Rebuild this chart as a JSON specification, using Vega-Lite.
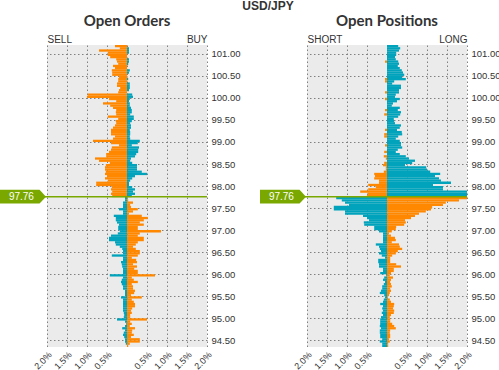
{
"$schema":"https://vega.github.io/schema/vega-lite/v6.json",
"padding":{"left":0,"top":0,"right":0,"bottom":0},
"background":"white",
"title":{"text":"USD/JPY","fontSize":12,"font":"Liberation Sans","fontWeight":"bold","color":"#333333","anchor":"middle","dx":18,"offset":1},
"datasets":{
"now":[{"p":97.76}],
"book":[
{"p":101.175,"oa":-0.30,"ob":0,"pa":0,"pb":0.28},
{"p":101.125,"oa":-0.18,"ob":0.05,"pa":0,"pb":0.33},
{"p":101.075,"oa":-0.70,"ob":0.05,"pa":0,"pb":0.30},
{"p":101.025,"oa":-0.48,"ob":0.05,"pa":0,"pb":0.23},
{"p":100.975,"oa":-0.48,"ob":0,"pa":0,"pb":0.23},
{"p":100.925,"oa":-0.42,"ob":0,"pa":0,"pb":0.20},
{"p":100.875,"oa":-0.27,"ob":0.05,"pa":0,"pb":0.22},
{"p":100.825,"oa":-0.25,"ob":0.05,"pa":-0.05,"pb":0.28},
{"p":100.775,"oa":-0.22,"ob":0.03,"pa":0,"pb":0.30},
{"p":100.725,"oa":-0.35,"ob":0,"pa":0,"pb":0.27},
{"p":100.675,"oa":-0.30,"ob":0,"pa":0,"pb":0.32},
{"p":100.625,"oa":-0.38,"ob":0.07,"pa":0,"pb":0.37},
{"p":100.575,"oa":-0.37,"ob":0.05,"pa":0,"pb":0.40},
{"p":100.525,"oa":-0.37,"ob":0,"pa":0,"pb":0.43},
{"p":100.475,"oa":-0.20,"ob":0,"pa":0,"pb":0.38},
{"p":100.425,"oa":-0.22,"ob":0.03,"pa":-0.05,"pb":0.47},
{"p":100.375,"oa":-0.22,"ob":0,"pa":-0.05,"pb":0.18},
{"p":100.325,"oa":-0.25,"ob":0.07,"pa":0,"pb":0.13},
{"p":100.275,"oa":-0.25,"ob":0.07,"pa":0,"pb":0.35},
{"p":100.225,"oa":-0.17,"ob":0.07,"pa":0,"pb":0.35},
{"p":100.175,"oa":-0.20,"ob":0.05,"pa":0,"pb":0.30},
{"p":100.125,"oa":-0.22,"ob":0,"pa":-0.05,"pb":0.30},
{"p":100.075,"oa":-0.98,"ob":0.13,"pa":0,"pb":0.22},
{"p":100.025,"oa":-1.00,"ob":0.15,"pa":0,"pb":0.20},
{"p":99.975,"oa":-0.45,"ob":0.07,"pa":-0.05,"pb":0.32},
{"p":99.925,"oa":-0.27,"ob":0.05,"pa":0,"pb":0.25},
{"p":99.875,"oa":-0.60,"ob":0.07,"pa":0,"pb":0.15},
{"p":99.825,"oa":-0.42,"ob":0.07,"pa":0,"pb":0.12},
{"p":99.775,"oa":-0.35,"ob":0.10,"pa":0,"pb":0.32},
{"p":99.725,"oa":-0.27,"ob":0.12,"pa":-0.05,"pb":0.27},
{"p":99.675,"oa":-0.28,"ob":0.12,"pa":0,"pb":0.35},
{"p":99.625,"oa":-0.27,"ob":0.08,"pa":-0.07,"pb":0.33},
{"p":99.575,"oa":-0.48,"ob":0.17,"pa":0,"pb":0.28},
{"p":99.525,"oa":-0.22,"ob":0.17,"pa":0,"pb":0.17},
{"p":99.475,"oa":-0.28,"ob":0.12,"pa":0,"pb":0.18},
{"p":99.425,"oa":-0.27,"ob":0.08,"pa":0,"pb":0.20},
{"p":99.375,"oa":-0.30,"ob":0.10,"pa":0,"pb":0.35},
{"p":99.325,"oa":-0.35,"ob":0.10,"pa":0,"pb":0.32},
{"p":99.275,"oa":-0.40,"ob":0.07,"pa":-0.05,"pb":0.25},
{"p":99.225,"oa":-0.40,"ob":0.08,"pa":0,"pb":0.37},
{"p":99.175,"oa":-0.40,"ob":0.08,"pa":-0.07,"pb":0.38},
{"p":99.125,"oa":-0.30,"ob":0.07,"pa":-0.07,"pb":0.28},
{"p":99.075,"oa":-0.35,"ob":0.08,"pa":0,"pb":0.22},
{"p":99.025,"oa":-0.85,"ob":0.32,"pa":0,"pb":0.32},
{"p":98.975,"oa":-0.40,"ob":0.27,"pa":0,"pb":0.35},
{"p":98.925,"oa":-0.20,"ob":0.12,"pa":-0.05,"pb":0.35},
{"p":98.875,"oa":-0.38,"ob":0.30,"pa":0,"pb":0.38},
{"p":98.825,"oa":-0.40,"ob":0.28,"pa":0,"pb":0.27},
{"p":98.775,"oa":-0.45,"ob":0.28,"pa":-0.07,"pb":0.22},
{"p":98.725,"oa":-0.52,"ob":0.23,"pa":0,"pb":0.32},
{"p":98.675,"oa":-0.52,"ob":0.20,"pa":-0.08,"pb":0.47},
{"p":98.625,"oa":-0.80,"ob":0.10,"pa":-0.03,"pb":0.55},
{"p":98.575,"oa":-0.70,"ob":0.08,"pa":0,"pb":0.70},
{"p":98.525,"oa":-0.43,"ob":0.13,"pa":-0.07,"pb":0.63},
{"p":98.475,"oa":-0.53,"ob":0.25,"pa":-0.10,"pb":0.45},
{"p":98.425,"oa":-0.55,"ob":0.25,"pa":-0.03,"pb":0.98},
{"p":98.375,"oa":-0.55,"ob":0.25,"pa":-0.03,"pb":1.00},
{"p":98.325,"oa":-0.53,"ob":0.37,"pa":-0.08,"pb":1.08},
{"p":98.275,"oa":-0.55,"ob":0.50,"pa":-0.32,"pb":1.33},
{"p":98.225,"oa":-0.50,"ob":0.20,"pa":-0.30,"pb":1.20},
{"p":98.175,"oa":-0.55,"ob":0.13,"pa":-0.32,"pb":1.30},
{"p":98.125,"oa":-0.48,"ob":0.08,"pa":-0.20,"pb":1.35},
{"p":98.075,"oa":-0.77,"ob":0.05,"pa":-0.20,"pb":1.60},
{"p":98.025,"oa":-0.77,"ob":0.05,"pa":-0.47,"pb":1.15},
{"p":97.975,"oa":-0.38,"ob":0.13,"pa":-0.28,"pb":1.40},
{"p":97.925,"oa":-0.40,"ob":0.20,"pa":-0.47,"pb":1.40},
{"p":97.875,"oa":-0.37,"ob":0.15,"pa":-0.67,"pb":2.10},
{"p":97.825,"oa":-0.40,"ob":0.20,"pa":-0.48,"pb":2.10},
{"p":97.775,"oa":-0.37,"ob":0.12,"pa":-0.50,"pb":2.10},
{"p":97.725,"oa":-0.05,"ob":0.02,"pa":-1.27,"pb":2.10},
{"p":97.675,"oa":-0.05,"ob":0.03,"pa":-1.13,"pb":1.80},
{"p":97.625,"oa":-0.10,"ob":0.15,"pa":-1.05,"pb":1.47},
{"p":97.575,"oa":-0.10,"ob":0.08,"pa":-0.95,"pb":1.40},
{"p":97.525,"oa":-0.10,"ob":0.10,"pa":-1.33,"pb":1.13},
{"p":97.475,"oa":-0.20,"ob":0.27,"pa":-1.33,"pb":1.10},
{"p":97.425,"oa":-0.10,"ob":0.15,"pa":-1.05,"pb":0.97},
{"p":97.375,"oa":-0.10,"ob":0.05,"pa":-1.05,"pb":0.80},
{"p":97.325,"oa":-0.33,"ob":0.37,"pa":-0.60,"pb":0.70},
{"p":97.275,"oa":-0.28,"ob":0.52,"pa":-0.50,"pb":0.60},
{"p":97.225,"oa":-0.28,"ob":0.42,"pa":-0.45,"pb":0.45},
{"p":97.175,"oa":-0.25,"ob":0.32,"pa":-0.58,"pb":0.47},
{"p":97.125,"oa":-0.20,"ob":0.42,"pa":-0.57,"pb":0.43},
{"p":97.075,"oa":-0.22,"ob":0.27,"pa":-0.32,"pb":0.23},
{"p":97.025,"oa":-0.22,"ob":0.27,"pa":-0.32,"pb":0.22},
{"p":96.975,"oa":-0.18,"ob":0.85,"pa":-0.20,"pb":0.12},
{"p":96.925,"oa":-0.23,"ob":0.32,"pa":-0.10,"pb":0.05},
{"p":96.875,"oa":-0.40,"ob":0.27,"pa":-0.10,"pb":0.10},
{"p":96.825,"oa":-0.45,"ob":0.42,"pa":-0.10,"pb":0.20},
{"p":96.775,"oa":-0.45,"ob":0.42,"pa":-0.10,"pb":0.22},
{"p":96.725,"oa":-0.30,"ob":0.27,"pa":-0.10,"pb":0.12},
{"p":96.675,"oa":-0.28,"ob":0.22,"pa":-0.28,"pb":0.30},
{"p":96.625,"oa":-0.18,"ob":0.15,"pa":-0.20,"pb":0.32},
{"p":96.575,"oa":-0.12,"ob":0.22,"pa":-0.18,"pb":0.38},
{"p":96.525,"oa":-0.10,"ob":0.32,"pa":-0.15,"pb":0.27},
{"p":96.475,"oa":-0.10,"ob":0.32,"pa":-0.20,"pb":0.22},
{"p":96.425,"oa":-0.38,"ob":0.27,"pa":-0.13,"pb":0.13},
{"p":96.375,"oa":-0.10,"ob":0.12,"pa":-0.05,"pb":0.08},
{"p":96.325,"oa":-0.10,"ob":0.23,"pa":-0.22,"pb":0.08},
{"p":96.275,"oa":-0.15,"ob":0.25,"pa":-0.22,"pb":0.08},
{"p":96.225,"oa":-0.13,"ob":0.15,"pa":-0.20,"pb":0.23},
{"p":96.175,"oa":-0.12,"ob":0.25,"pa":-0.20,"pb":0.35},
{"p":96.125,"oa":-0.10,"ob":0.18,"pa":-0.10,"pb":0.17},
{"p":96.075,"oa":-0.10,"ob":0.27,"pa":-0.10,"pb":0.17},
{"p":96.025,"oa":-0.10,"ob":0.27,"pa":-0.17,"pb":0.10},
{"p":95.975,"oa":-0.43,"ob":0.70,"pa":-0.02,"pb":0.07},
{"p":95.925,"oa":-0.10,"ob":0.12,"pa":-0.07,"pb":0.15},
{"p":95.875,"oa":-0.13,"ob":0.17,"pa":-0.10,"pb":0.10},
{"p":95.825,"oa":-0.15,"ob":0.27,"pa":-0.05,"pb":0.08},
{"p":95.775,"oa":-0.13,"ob":0.12,"pa":-0.08,"pb":0.10},
{"p":95.725,"oa":-0.10,"ob":0.15,"pa":-0.12,"pb":0.12},
{"p":95.675,"oa":-0.10,"ob":0.15,"pa":-0.12,"pb":0.08},
{"p":95.625,"oa":-0.05,"ob":0.20,"pa":-0.15,"pb":0.10},
{"p":95.575,"oa":-0.05,"ob":0.18,"pa":-0.18,"pb":0.07},
{"p":95.525,"oa":-0.05,"ob":0.10,"pa":-0.07,"pb":0.05},
{"p":95.475,"oa":-0.15,"ob":0.37,"pa":-0.05,"pb":0.02},
{"p":95.425,"oa":-0.10,"ob":0.12,"pa":-0.08,"pb":0.07},
{"p":95.375,"oa":-0.10,"ob":0.17,"pa":-0.10,"pb":0.10},
{"p":95.325,"oa":-0.10,"ob":0.20,"pa":-0.17,"pb":0.18},
{"p":95.275,"oa":-0.10,"ob":0.20,"pa":-0.10,"pb":0.17},
{"p":95.225,"oa":-0.10,"ob":0.13,"pa":-0.12,"pb":0.15},
{"p":95.175,"oa":-0.10,"ob":0.10,"pa":-0.10,"pb":0.18},
{"p":95.125,"oa":-0.08,"ob":0.12,"pa":-0.13,"pb":0.17},
{"p":95.075,"oa":-0.07,"ob":0.08,"pa":-0.10,"pb":0.10},
{"p":95.025,"oa":-0.08,"ob":0.08,"pa":-0.15,"pb":0.07},
{"p":94.975,"oa":-0.25,"ob":0.50,"pa":-0.17,"pb":0.08},
{"p":94.925,"oa":-0.05,"ob":0.08,"pa":-0.17,"pb":0.08},
{"p":94.875,"oa":-0.02,"ob":0.12,"pa":-0.17,"pb":0.13},
{"p":94.825,"oa":-0.05,"ob":0.07,"pa":-0.18,"pb":0.18},
{"p":94.775,"oa":-0.12,"ob":0.20,"pa":-0.15,"pb":0.22},
{"p":94.725,"oa":-0.05,"ob":0.13,"pa":-0.18,"pb":0.08},
{"p":94.675,"oa":-0.08,"ob":0.12,"pa":-0.18,"pb":0.07},
{"p":94.625,"oa":-0.10,"ob":0.17,"pa":-0.17,"pb":0.08},
{"p":94.575,"oa":-0.07,"ob":0.10,"pa":-0.17,"pb":0.08},
{"p":94.525,"oa":-0.05,"ob":0.32,"pa":-0.12,"pb":0.05},
{"p":94.475,"oa":-0.05,"ob":0.32,"pa":-0.18,"pb":0.07},
{"p":94.425,"oa":-0.03,"ob":0.07,"pa":-0.12,"pb":0.03},
{"p":94.375,"oa":0,"ob":0.03,"pa":-0.12,"pb":0.03}
]},
"spacing":100,
"bounds":"flush",
"hconcat":[
{
"width":160,"height":302,
"title":{"text":"Open Orders","fontSize":15,"font":"Lato","fontWeight":"bold","color":"#333333","offset":5},
"resolve":{"axis":{"x":"independent"}},
"encoding":{
"y":{"field":"p","type":"quantitative","scale":{"domain":[94.35,101.2],"nice":false,"zero":false,"padding":0},
"axis":{"orient":"right","title":null,"values":[94.5,95,95.5,96,96.5,97,97.5,98,98.5,99,99.5,100,100.5,101],"format":".2f","labelOverlap":false,"ticks":false,"domain":false,"grid":true,"gridDash":[1.5,2.5],"gridColor":"#808080","labelFontSize":9.5,"labelColor":"#333333","labelPadding":4,"labelFont":"Liberation Sans"}}
},
"layer":[
{"data":{"name":"book"},"transform":[{"fold":["oa","ob"],"as":["k","v"]}],
"mark":{"type":"bar","orient":"horizontal","size":2.3,"clip":true},
"encoding":{
"x":{"field":"v","type":"quantitative","stack":null,"scale":{"domain":[-2,2],"nice":false},
"axis":{"orient":"bottom","title":null,"values":[-2,-1.5,-1,-0.5,0,0.5,1,1.5,2],"labelExpr":"datum.value == 0 ? '' : format(abs(datum.value), '.1f') + '%'","labelAngle":-45,"labelOverlap":false,"ticks":false,"domain":false,"grid":true,"gridDash":[1.5,2.5],"gridColor":"#808080","labelFontSize":9,"labelColor":"#333333","labelPadding":3,"labelFont":"Liberation Sans"}},
"color":{"condition":{"test":"(datum.p > 97.76) == (datum.k == 'oa')","value":"#ff8800"},"value":"#00a3bb"}
}},
{"data":{"name":"now"},"mark":{"type":"rule","color":"#7aa800","strokeWidth":1.5},
"encoding":{
"x":{"datum":-2.05,"type":"quantitative","axis":{"orient":"top","title":null,"values":[-2,2],"labelExpr":"datum.value < 0 ? 'SELL' : 'BUY'","labelFlush":true,"labelOverlap":false,"ticks":false,"domain":false,"grid":false,"labelFontSize":10,"labelColor":"#333333","labelPadding":1,"labelFont":"Liberation Sans"}},
"x2":{"datum":2}}},
{"data":{"name":"now"},"mark":{"type":"point","shape":"M-1,-0.3L0.72,-0.3L1,0L0.72,0.3L-1,0.3Z","size":2116,"filled":true,"opacity":1,"color":"#7aa800"},
"encoding":{"x":{"datum":-2.6,"type":"quantitative","axis":null}}},
{"data":{"name":"now"},"mark":{"type":"text","color":"white","fontSize":10,"font":"Liberation Sans","align":"center","baseline":"middle"},
"encoding":{"x":{"datum":-2.64,"type":"quantitative","axis":null},"text":{"field":"p","type":"quantitative","format":".2f"}}}
]
},
{
"width":160,"height":302,
"title":{"text":"Open Positions","fontSize":15,"font":"Lato","fontWeight":"bold","color":"#333333","offset":5},
"resolve":{"axis":{"x":"independent"}},
"encoding":{
"y":{"field":"p","type":"quantitative","scale":{"domain":[94.35,101.2],"nice":false,"zero":false,"padding":0},
"axis":{"orient":"right","title":null,"values":[94.5,95,95.5,96,96.5,97,97.5,98,98.5,99,99.5,100,100.5,101],"format":".2f","labelOverlap":false,"ticks":false,"domain":false,"grid":true,"gridDash":[1.5,2.5],"gridColor":"#808080","labelFontSize":9.5,"labelColor":"#333333","labelPadding":4,"labelFont":"Liberation Sans"}}
},
"layer":[
{"data":{"name":"book"},"transform":[{"fold":["pa","pb"],"as":["k","v"]}],
"mark":{"type":"bar","orient":"horizontal","size":2.3,"clip":true},
"encoding":{
"x":{"field":"v","type":"quantitative","stack":null,"scale":{"domain":[-2,2],"nice":false},
"axis":{"orient":"bottom","title":null,"values":[-2,-1.5,-1,-0.5,0,0.5,1,1.5,2],"labelExpr":"datum.value == 0 ? '' : format(abs(datum.value), '.1f') + '%'","labelAngle":-45,"labelOverlap":false,"ticks":false,"domain":false,"grid":true,"gridDash":[1.5,2.5],"gridColor":"#808080","labelFontSize":9,"labelColor":"#333333","labelPadding":3,"labelFont":"Liberation Sans"}},
"color":{"condition":{"test":"(datum.p > 97.76) == (datum.k == 'pa')","value":"#ff8800"},"value":"#00a3bb"}
}},
{"data":{"name":"now"},"mark":{"type":"rule","color":"#7aa800","strokeWidth":1.5},
"encoding":{
"x":{"datum":-2.05,"type":"quantitative","axis":{"orient":"top","title":null,"values":[-2,2],"labelExpr":"datum.value < 0 ? 'SHORT' : 'LONG'","labelFlush":true,"labelOverlap":false,"ticks":false,"domain":false,"grid":false,"labelFontSize":10,"labelColor":"#333333","labelPadding":1,"labelFont":"Liberation Sans"}},
"x2":{"datum":2}}},
{"data":{"name":"now"},"mark":{"type":"point","shape":"M-1,-0.3L0.72,-0.3L1,0L0.72,0.3L-1,0.3Z","size":2116,"filled":true,"opacity":1,"color":"#7aa800"},
"encoding":{"x":{"datum":-2.6,"type":"quantitative","axis":null}}},
{"data":{"name":"now"},"mark":{"type":"text","color":"white","fontSize":10,"font":"Liberation Sans","align":"center","baseline":"middle"},
"encoding":{"x":{"datum":-2.64,"type":"quantitative","axis":null},"text":{"field":"p","type":"quantitative","format":".2f"}}}
]
}
],
"config":{"view":{"fill":"#ebebeb","stroke":null},"axis":{"labelFont":"Liberation Sans","labelOverlap":false}}
}
